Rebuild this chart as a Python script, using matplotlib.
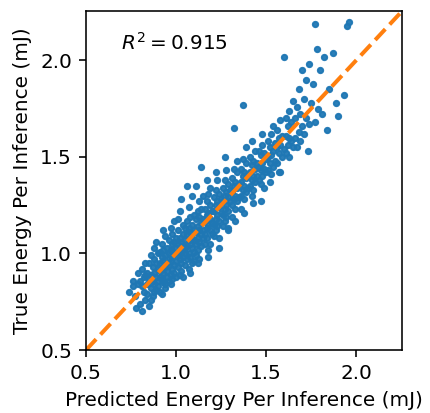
import numpy as np
import matplotlib
matplotlib.use("Agg")
import matplotlib.pyplot as plt

pred = [
    0.74, 0.76, 0.77, 0.78, 0.79, 0.79, 0.80, 0.76,
    0.80, 0.81, 0.81, 0.82, 0.82, 0.83, 0.83, 0.84, 0.84, 0.84, 0.85, 0.85, 0.81, 0.83,
    0.85, 0.86, 0.86, 0.86, 0.87, 0.87, 0.87, 0.88, 0.88, 0.88, 0.88, 0.89, 0.89, 0.89, 0.90, 0.90, 0.90, 0.86, 0.88, 0.89,
    0.90, 0.91, 0.91, 0.91, 0.91, 0.92, 0.92, 0.92, 0.92, 0.93, 0.93, 0.93, 0.93, 0.94, 0.94, 0.94, 0.94, 0.95, 0.95, 0.95, 0.91, 0.92, 0.93, 0.94,
    0.95, 0.96, 0.96, 0.96, 0.96, 0.97, 0.97, 0.97, 0.97, 0.97, 0.98, 0.98, 0.98, 0.98, 0.98, 0.99, 0.99, 0.99, 0.99, 1.00, 1.00, 1.00, 1.00, 0.96, 0.98, 0.99,
    1.01, 1.01, 1.01, 1.01, 1.02, 1.02, 1.02, 1.02, 1.02, 1.03, 1.03, 1.03, 1.03, 1.04, 1.04, 1.04, 1.04, 1.04, 1.05, 1.05, 1.05, 1.05, 1.01, 1.03, 1.02, 1.04,
    1.05, 1.06, 1.06, 1.06, 1.06, 1.07, 1.07, 1.07, 1.07, 1.07, 1.08, 1.08, 1.08, 1.08, 1.09, 1.09, 1.09, 1.09, 1.09, 1.10, 1.10, 1.10, 1.10, 1.06, 1.08, 1.10,
    1.11, 1.11, 1.11, 1.11, 1.12, 1.12, 1.12, 1.12, 1.13, 1.13, 1.13, 1.13, 1.13, 1.14, 1.14, 1.14, 1.14, 1.15, 1.15, 1.15, 1.11, 1.12, 1.14, 1.15,
    1.16, 1.16, 1.16, 1.16, 1.17, 1.17, 1.17, 1.17, 1.18, 1.18, 1.18, 1.18, 1.18, 1.19, 1.19, 1.19, 1.19, 1.20, 1.20, 1.20, 1.17, 1.19,
    1.21, 1.21, 1.21, 1.21, 1.22, 1.22, 1.22, 1.22, 1.23, 1.23, 1.23, 1.23, 1.24, 1.24, 1.24, 1.24, 1.25, 1.25, 1.22, 1.24,
    1.26, 1.26, 1.26, 1.26, 1.27, 1.27, 1.27, 1.27, 1.28, 1.28, 1.28, 1.28, 1.29, 1.29, 1.29, 1.29, 1.30, 1.30, 1.27, 1.29,
    1.31, 1.31, 1.31, 1.31, 1.32, 1.32, 1.32, 1.33, 1.33, 1.33, 1.33, 1.34, 1.34, 1.34, 1.35, 1.35, 1.32, 1.34,
    1.36, 1.36, 1.36, 1.36, 1.37, 1.37, 1.37, 1.38, 1.38, 1.38, 1.38, 1.39, 1.39, 1.39, 1.40, 1.40, 1.37, 1.39,
    1.41, 1.41, 1.41, 1.42, 1.42, 1.42, 1.43, 1.43, 1.43, 1.43, 1.44, 1.44, 1.44, 1.45, 1.45, 1.42,
    1.46, 1.46, 1.46, 1.47, 1.47, 1.47, 1.47, 1.48, 1.48, 1.48, 1.49, 1.49, 1.49, 1.50, 1.50, 1.48,
    1.51, 1.51, 1.51, 1.52, 1.52, 1.52, 1.53, 1.53, 1.53, 1.54, 1.54, 1.54, 1.55, 1.55,
    1.56, 1.56, 1.56, 1.57, 1.57, 1.57, 1.58, 1.58, 1.58, 1.59, 1.59, 1.60, 1.60,
    1.61, 1.61, 1.61, 1.62, 1.62, 1.63, 1.63, 1.63, 1.64, 1.64, 1.65, 1.65,
    1.66, 1.66, 1.67, 1.67, 1.68, 1.68, 1.69, 1.69, 1.70, 1.70,
    1.71, 1.71, 1.72, 1.72, 1.73, 1.74, 1.74, 1.75,
    1.76, 1.77, 1.77, 1.78, 1.79, 1.80,
    1.81, 1.82, 1.84, 1.85,
    1.87, 1.89, 1.90,
    1.93, 1.95, 1.96,
]
true = [
    0.80, 0.86, 0.78, 0.72, 0.84, 0.90, 0.74, 0.83,
    0.86, 0.70, 0.92, 0.80, 0.88, 0.76, 0.95, 0.84, 0.79, 0.90, 0.73, 0.87, 0.83, 0.89,
    0.95, 0.82, 0.89, 0.99, 0.78, 0.86, 0.93, 0.84, 0.90, 0.97, 1.03, 0.81, 0.88, 0.95, 0.86, 0.92, 1.00, 0.76, 0.80, 1.06,
    0.83, 0.88, 0.95, 1.01, 0.80, 0.87, 0.92, 0.98, 1.05, 0.85, 0.90, 0.96, 1.02, 0.84, 0.93, 0.99, 1.09, 0.88, 0.95, 1.03, 0.91, 0.79, 1.12, 0.82,
    0.91, 0.86, 0.94, 1.00, 1.07, 0.89, 0.96, 1.02, 0.84, 1.13, 0.92, 0.98, 1.05, 0.87, 1.10, 0.94, 1.00, 0.90, 1.17, 0.96, 1.03, 0.88, 1.08, 0.97, 1.01, 1.06,
    0.93, 0.99, 1.05, 1.12, 0.89, 0.97, 1.03, 1.08, 1.22, 0.95, 1.01, 1.06, 0.91, 0.98, 1.04, 1.10, 1.15, 0.88, 1.00, 1.07, 0.94, 1.13, 1.18, 1.28, 1.00, 1.02,
    1.03, 0.97, 1.04, 1.10, 1.17, 0.92, 1.00, 1.07, 1.13, 1.24, 0.98, 1.05, 1.11, 1.19, 0.95, 1.03, 1.08, 1.15, 1.30, 1.01, 1.07, 1.12, 0.96, 1.35, 0.90, 1.20,
    1.05, 1.11, 1.18, 0.99, 1.08, 1.14, 1.22, 1.02, 1.06, 1.12, 1.19, 1.27, 0.97, 1.10, 1.16, 1.04, 1.23, 1.12, 1.18, 1.08, 1.35, 0.95, 1.45, 1.30,
    1.10, 1.17, 1.23, 1.05, 1.13, 1.20, 1.27, 1.08, 1.15, 1.21, 1.31, 1.02, 0.98, 1.12, 1.18, 1.25, 1.34, 1.16, 1.22, 1.10, 1.38, 1.05,
    1.15, 1.22, 1.29, 1.09, 1.18, 1.25, 1.33, 1.12, 1.20, 1.27, 1.14, 1.38, 1.17, 1.24, 1.31, 1.08, 1.21, 1.28, 1.42, 1.03,
    1.20, 1.27, 1.34, 1.14, 1.23, 1.30, 1.38, 1.17, 1.25, 1.32, 1.19, 1.43, 1.22, 1.29, 1.36, 1.13, 1.27, 1.33, 1.50, 1.12,
    1.25, 1.32, 1.39, 1.19, 1.28, 1.35, 1.44, 1.23, 1.30, 1.37, 1.17, 1.27, 1.34, 1.42, 1.29, 1.36, 1.65, 1.48,
    1.30, 1.37, 1.44, 1.23, 1.33, 1.40, 1.49, 1.28, 1.35, 1.42, 1.21, 1.32, 1.39, 1.47, 1.34, 1.41, 1.77, 1.55,
    1.35, 1.42, 1.50, 1.30, 1.38, 1.46, 1.33, 1.40, 1.48, 1.26, 1.37, 1.44, 1.53, 1.40, 1.47, 1.58,
    1.38, 1.45, 1.53, 1.27, 1.36, 1.43, 1.51, 1.40, 1.47, 1.56, 1.34, 1.44, 1.52, 1.42, 1.49, 1.62,
    1.43, 1.50, 1.58, 1.37, 1.47, 1.55, 1.41, 1.51, 1.62, 1.45, 1.53, 1.66, 1.48, 1.57,
    1.47, 1.55, 1.64, 1.42, 1.52, 1.60, 1.42, 1.56, 1.69, 1.50, 1.61, 1.54, 2.02,
    1.52, 1.61, 1.70, 1.56, 1.66, 1.50, 1.60, 1.74, 1.58, 1.68, 1.55, 1.79,
    1.60, 1.70, 1.55, 1.76, 1.63, 1.85, 1.58, 1.72, 1.66, 1.95,
    1.62, 1.80, 1.70, 1.90, 1.53, 1.67, 1.98, 1.78,
    1.88, 2.19, 1.68, 2.06, 1.75, 1.95,
    1.72, 2.02, 1.64, 1.85,
    2.04, 1.78, 1.71,
    1.82, 2.18, 2.20,
]
r2_text = r"$R^2 = 0.915$"
lims = [0.5, 2.255]

fig = plt.figure(figsize=(430 / 144, 413 / 144), dpi=144)
ax = fig.add_axes([0.2, 0.1525, 0.735, 0.8205])

ax.scatter(pred, true, s=7, color="C0", alpha=0.95)
ax.plot(lims, lims, "--", color="C1", linewidth=2)
ax.set_xlim(lims)
ax.set_ylim(lims)
ax.set_xticks([0.5, 1.0, 1.5, 2.0])
ax.set_yticks([0.5, 1.0, 1.5, 2.0])
ax.set_xlabel("Predicted Energy Per Inference (mJ)")
ax.set_ylabel("True Energy Per Inference (mJ)")
ax.text(0.11, 0.905, r2_text, transform=ax.transAxes, va="center")

fig.savefig("out.png", dpi=144)
